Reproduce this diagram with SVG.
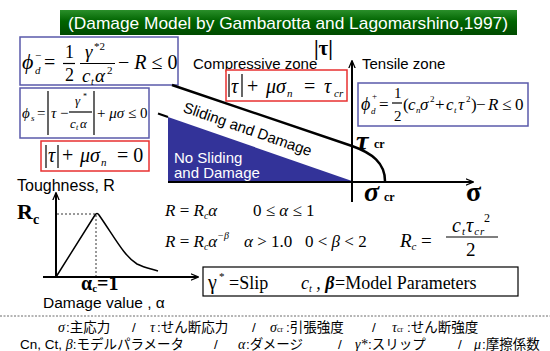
<svg xmlns="http://www.w3.org/2000/svg" width="550" height="351" viewBox="0 0 550 351">
<defs>
<linearGradient id="tg" x1="0" y1="0" x2="0" y2="1">
<stop offset="0" stop-color="#2a8f2a"/>
<stop offset="0.45" stop-color="#006400"/>
<stop offset="1" stop-color="#004a00"/>
</linearGradient>
<marker id="ah" viewBox="0 0 10 10" refX="9" refY="5" markerWidth="8" markerHeight="8" orient="auto" markerUnits="userSpaceOnUse">
<path d="M0,1 L9.5,5 L0,9" fill="none" stroke="#000" stroke-width="1.6"/>
</marker>
<style>
.sans{font-family:"Liberation Sans",Arial,sans-serif}
.m{font-family:"Liberation Serif","DejaVu Serif","Times New Roman",serif;font-style:italic}
.r{font-family:"Liberation Serif","DejaVu Serif","Times New Roman",serif;font-style:normal}
.jp{font-family:"Liberation Sans","Noto Sans CJK JP",sans-serif;font-size:13.5px}
.g{font-family:"Liberation Serif","Times New Roman",serif;font-style:italic;font-size:14px}
.bbox{fill:#fff;stroke:#5a5aaa;stroke-width:1.5}
.rbox{fill:#fff;stroke:#e83030;stroke-width:1.5}
.kbox{fill:#fff;stroke:#000;stroke-width:1.2}
.ax{stroke:#000;stroke-width:2;fill:none}
.bar{stroke:#000;stroke-width:1.2}
.dot{stroke:#000;stroke-width:0.8;stroke-dasharray:2,2;fill:none}
</style>
</defs>

<g id="title">
<rect x="60" y="10" width="457" height="25" fill="url(#tg)"/>
<text class="sans" x="288" y="29" font-size="17" fill="#fff" text-anchor="middle" textLength="440" lengthAdjust="spacingAndGlyphs">(Damage Model by Gambarotta and Lagomarshino,1997)</text>
</g>

<g id="phi-d-minus">
<rect class="bbox" x="20" y="37" width="158" height="48"/>
<text class="m" x="22" y="69" font-size="22">ϕ</text>
<text class="m" x="35" y="74" font-size="11">d</text>
<text class="r" x="35" y="59" font-size="11">−</text>
<text class="r" x="44" y="69" font-size="20">=</text>
<text class="r" x="65" y="58" font-size="18">1</text>
<line class="bar" x1="63" y1="63.5" x2="75" y2="63.5"/>
<text class="r" x="65" y="81" font-size="18">2</text>
<text class="m" x="85" y="58" font-size="19">γ</text>
<text class="r" x="94" y="50" font-size="11">*2</text>
<line class="bar" x1="80" y1="63.5" x2="115" y2="63.5"/>
<text class="m" x="82" y="82" font-size="19">c</text>
<text class="m" x="91" y="85" font-size="10">t</text>
<text class="m" x="95" y="82" font-size="19">α</text>
<text class="r" x="107" y="74" font-size="11">2</text>
<text class="r" x="118" y="69" font-size="20">− <tspan class="m">R</tspan> ≤ 0</text>
</g>

<g id="phi-s">
<rect class="bbox" x="20" y="88" width="129" height="50"/>
<text class="m" x="22" y="118" font-size="15">ϕ</text>
<text class="m" x="31" y="121" font-size="9">s</text>
<text class="r" x="37" y="118" font-size="15">=</text>
<line class="bar" x1="48" y1="91" x2="48" y2="135"/>
<text class="m" x="51" y="118" font-size="15">τ</text>
<text class="r" x="60" y="118" font-size="15">−</text>
<text class="m" x="75" y="105" font-size="13">γ</text>
<text class="r" x="83" y="99" font-size="8">*</text>
<line class="bar" x1="69" y1="112" x2="92" y2="112"/>
<text class="m" x="70" y="128" font-size="13">c</text>
<text class="m" x="76" y="130" font-size="8">t</text>
<text class="m" x="80" y="128" font-size="13">α</text>
<line class="bar" x1="94" y1="91" x2="94" y2="135"/>
<text class="r" x="97" y="118" font-size="15">+ <tspan class="m">μσ</tspan> ≤ 0</text>
</g>

<g id="slip-zero">
<rect class="rbox" x="41" y="141" width="108" height="30"/>
<line class="bar" x1="46" y1="145" x2="46" y2="168"/>
<text class="m" x="48" y="162" font-size="20">τ</text>
<line class="bar" x1="58" y1="145" x2="58" y2="168"/>
<text class="r" x="62" y="162" font-size="20">+</text>
<text class="m" x="80" y="162" font-size="20">μσ</text>
<text class="m" x="101" y="166" font-size="11">n</text>
<text class="r" x="117" y="162" font-size="20">= 0</text>
</g>

<g id="compressive">
<text class="sans" x="193" y="69" font-size="15">Compressive zone</text>
<rect class="rbox" x="226" y="70" width="121" height="31"/>
<line class="bar" x1="229" y1="74" x2="229" y2="97"/>
<text class="m" x="231" y="93" font-size="20">τ</text>
<line class="bar" x1="242" y1="74" x2="242" y2="97"/>
<text class="r" x="247" y="93" font-size="20">+</text>
<text class="m" x="266" y="93" font-size="20">μσ</text>
<text class="m" x="287" y="97" font-size="11">n</text>
<text class="r" x="304" y="93" font-size="20">=</text>
<text class="m" x="324" y="93" font-size="20">τ</text>
<text class="m" x="334" y="97" font-size="11">cr</text>
</g>

<g id="tensile">
<text class="sans" x="362" y="69" font-size="15">Tensile zone</text>
<rect class="bbox" x="358" y="83" width="170" height="43"/>
<text class="m" x="361" y="110" font-size="18">ϕ</text>
<text class="m" x="371" y="114" font-size="9">d</text>
<text class="r" x="372" y="99" font-size="9">+</text>
<text class="r" x="379" y="110" font-size="17">=</text>
<text class="r" x="394" y="98" font-size="15">1</text>
<line class="bar" x1="392" y1="103" x2="402" y2="103"/>
<text class="r" x="394" y="121" font-size="15">2</text>
<text class="r" x="403" y="110" font-size="17">(</text>
<text class="m" x="408" y="110" font-size="17">c</text>
<text class="m" x="416" y="113" font-size="9">n</text>
<text class="m" x="420" y="110" font-size="17">σ</text>
<text class="r" x="430" y="102" font-size="9">2</text>
<text class="r" x="435" y="110" font-size="17">+</text>
<text class="m" x="446" y="110" font-size="17">c</text>
<text class="m" x="454" y="113" font-size="9">t</text>
<text class="m" x="458" y="110" font-size="17">τ</text>
<text class="r" x="466" y="102" font-size="9">2</text>
<text class="r" x="471" y="110" font-size="17">)</text>
<text class="r" x="476" y="110" font-size="17">−</text>
<text class="m" x="488" y="110" font-size="17">R</text>
<text class="r" x="502" y="110" font-size="17">≤</text>
<text class="r" x="515" y="110" font-size="17">0</text>
</g>

<g id="zones">
<polygon points="168,117 352,181 168,181" fill="#333399"/>
<text class="sans" x="174" y="163" font-size="15" fill="#fff">No Sliding</text>
<text class="sans" x="174" y="178" font-size="15" fill="#fff">and Damage</text>
<text class="sans" font-size="15" text-anchor="middle" transform="translate(246,134) rotate(19.3)">Sliding and Damage</text>
<text class="r" x="314" y="55" font-size="21" font-weight="bold">|τ|</text>
<text class="m" x="356" y="150" font-size="28" font-weight="bold">τ</text>
<text class="r" x="374" y="148" font-size="12" font-weight="bold">cr</text>
<text class="m" x="364" y="201" font-size="28" font-weight="bold">σ</text>
<text class="r" x="384" y="201" font-size="12" font-weight="bold">cr</text>
<text class="r" x="466" y="201" font-size="28" font-weight="bold">σ</text>
</g>

<g id="toughness">
<text class="sans" x="17" y="191" font-size="16">Toughness, R</text>
<text class="r" x="17" y="219" font-size="22" font-weight="bold">R</text>
<text class="r" x="33" y="224" font-size="14" font-weight="bold">c</text>
<path class="dot" d="M57,214 H96 V276"/>
<path d="M56,277 L95,215 Q97,212 99,215 C115,238 124,256 137,264 C145,268 152,269 158,271" fill="none" stroke="#000" stroke-width="1.5"/>
<text class="r" x="81" y="290" font-size="20" font-weight="bold">α<tspan font-size="11" dy="2">c</tspan><tspan dy="-2">=1</tspan></text>
<text class="sans" x="43" y="308" font-size="15.5">Damage value , α</text>
</g>

<g id="r-formulas">
<text class="m" x="165" y="216" font-size="17">R <tspan class="r">=</tspan> R<tspan font-size="10" dy="3">c</tspan><tspan dy="-3">α</tspan></text>
<text class="r" x="253" y="216" font-size="17">0 ≤ <tspan class="m">α</tspan> ≤ 1</text>
<text class="m" x="165" y="247" font-size="17">R <tspan class="r">=</tspan> R<tspan font-size="10" dy="3">c</tspan><tspan dy="-3">α</tspan><tspan font-size="10" dy="-8">−β</tspan></text>
<text class="m" x="244" y="247" font-size="17">α <tspan class="r">&gt; 1.0</tspan></text>
<text class="r" x="305" y="247" font-size="17">0 &lt; <tspan class="m">β</tspan> &lt; 2</text>
<text class="m" x="400" y="247" font-size="19">R<tspan font-size="11" dy="3">c</tspan></text>
<text class="r" x="421" y="247" font-size="19">=</text>
<text class="m" x="452" y="232" font-size="20" letter-spacing="1">c<tspan font-size="11" dy="3">t</tspan><tspan dy="-3">τ</tspan><tspan font-size="11" dy="3">cr</tspan></text>
<text class="r" x="484" y="222" font-size="12">2</text>
<line class="bar" x1="446" y1="237" x2="498" y2="237"/>
<text class="r" x="466" y="256" font-size="19">2</text>
</g>

<g id="slip">
<rect class="kbox" x="203" y="267" width="315" height="29"/>
<text class="r" x="208" y="289" font-size="20">γ</text>
<text class="r" x="219" y="280" font-size="11">*</text>
<text class="r" x="229" y="289" font-size="18">=Slip</text>
<text class="m" x="301" y="289" font-size="18">c<tspan font-size="10" dy="3">t</tspan><tspan dy="-3"> , </tspan><tspan font-weight="bold">β</tspan></text>
<text class="r" x="335" y="289" font-size="18">=Model Parameters</text>
</g>

<g id="connectors">
<line class="ax" x1="168" y1="182" x2="473" y2="182" marker-end="url(#ah)"/>
<line class="ax" x1="352" y1="202" x2="352" y2="61" marker-end="url(#ah)"/>
<line x1="158" y1="113.5" x2="168" y2="117" stroke="#000" stroke-width="2"/>
<path d="M172,85 L352,146 C372,153 385,163 385,181" fill="none" stroke="#000" stroke-width="2.5"/>
<line class="ax" x1="56" y1="277" x2="56" y2="193" marker-end="url(#ah)"/>
<line class="ax" x1="43" y1="277" x2="198" y2="277" marker-end="url(#ah)"/>
</g>

<g id="legend">
<line x1="0" y1="316" x2="550" y2="316" stroke="#444" stroke-width="0.8" stroke-dasharray="2,1.5"/>
<text class="g" x="58" y="332">σ</text><text class="jp" x="66" y="332">:主応力</text>
<text class="jp" x="132" y="332">/</text>
<text class="g" x="150" y="332">τ</text><text class="jp" x="157" y="332">:せん断応力</text>
<text class="jp" x="252" y="332">/</text>
<text class="g" x="270" y="332">σ<tspan font-size="8" font-style="normal">cr</tspan></text><text class="jp" x="286" y="332">:引張強度</text>
<text class="jp" x="372" y="332">/</text>
<text class="g" x="392" y="332">τ<tspan font-size="8" font-style="normal">cr</tspan></text><text class="jp" x="407" y="332">:せん断強度</text>
<text class="jp" x="20" y="349">Cn, Ct, <tspan class="g">β</tspan>:モデルパラメータ</text>
<text class="jp" x="214" y="349">/</text>
<text class="g" x="238" y="349">α</text><text class="jp" x="246" y="349">:ダメージ</text>
<text class="jp" x="338" y="349">/</text>
<text class="g" x="355" y="349">γ*</text><text class="jp" x="368" y="349">:スリップ</text>
<text class="jp" x="458" y="349">/</text>
<text class="g" x="474" y="349">μ</text><text class="jp" x="482" y="349">:摩擦係数</text>
</g>
</svg>
